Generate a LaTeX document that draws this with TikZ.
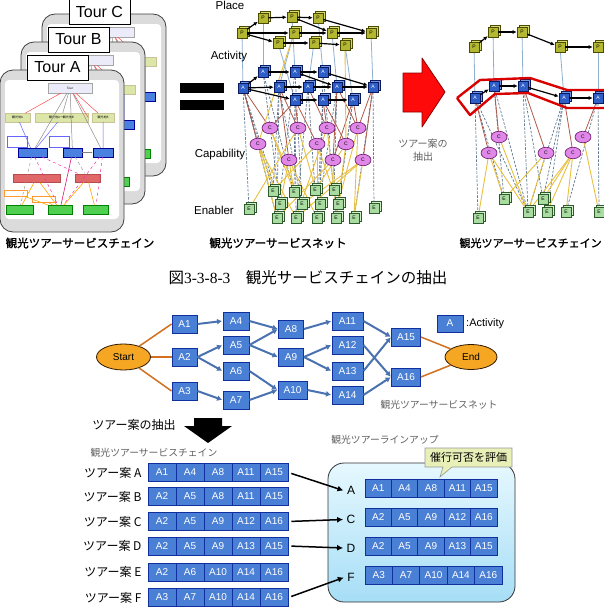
\documentclass[tikz,border=0pt]{standalone}
\usepackage{fontspec}
\setmainfont{Liberation Sans}
\newfontfamily\cjk{Noto Sans CJK JP}
\newfontfamily\cjkb[FakeBold=1.5]{Noto Sans CJK JP}
\newfontfamily\serifnum{Liberation Serif}
\usetikzlibrary{arrows.meta,shadows,shapes.geometric}
\pgfdeclarelayer{bg}
\pgfsetlayers{bg,main}
\definecolor{pfill}{HTML}{B4B830}
\definecolor{pdraw}{HTML}{4A4A00}
\definecolor{pshad}{HTML}{D8DC70}
\definecolor{afill}{HTML}{2E5EC8}
\definecolor{adraw}{HTML}{0A1A60}
\definecolor{ashad}{HTML}{7098E8}
\definecolor{cfill}{HTML}{E088E8}
\definecolor{cdraw}{HTML}{6A106A}
\definecolor{efill}{HTML}{A8DCA0}
\definecolor{edraw}{HTML}{2E5A2E}
\definecolor{eshad}{HTML}{D0F0C8}
\definecolor{pline}{HTML}{90B0D0}
\definecolor{acline}{HTML}{B05A48}
\definecolor{celine}{HTML}{E8C040}
\definecolor{aeline}{HTML}{607890}
\definecolor{cellfill}{HTML}{4A7FD6}
\definecolor{celldraw}{HTML}{1030A0}
\definecolor{arrblue}{HTML}{4A72B0}
\definecolor{orangeline}{HTML}{D07020}
\definecolor{startfill}{HTML}{F5A623}
\definecolor{txtgray}{HTML}{606060}
\definecolor{lutop}{HTML}{E6F8FF}
\definecolor{lubot}{HTML}{A6DEF6}
\definecolor{callfill}{HTML}{E8F0B8}
\definecolor{redarr}{HTML}{FF0A0A}
\definecolor{yboxc}{HTML}{DCE6A8}
\definecolor{bboxc}{HTML}{4A80E0}
\definecolor{rboxc}{HTML}{E06868}
\definecolor{gboxc}{HTML}{50D050}
\tikzset{
 cardframe/.style={draw=black!75, line width=0.8pt, fill=black!14, rounded corners=13},
 tourlabel/.style={draw=black, line width=0.8pt, fill=white, minimum width=61, minimum height=25, inner sep=0, font=\fontsize{16}{16}\selectfont},
 tinybox/.style={inner sep=0, minimum height=8.5, line width=0.4pt, font=\fontsize{3}{3}\selectfont\cjk},
 tourbox/.style={tinybox, fill=black!30!blue!8!white, draw=black!35, minimum width=44, minimum height=10},
 ybox/.style={tinybox, fill=yboxc, draw=yellow!50!black!50},
 wbox/.style={tinybox, fill=white, draw=blue!60, minimum width=20, minimum height=11},
 bbox/.style={tinybox, fill=bboxc, draw=blue!60!black},
 rbox/.style={tinybox, fill=rboxc, draw=red!60!black!70},
 obox/.style={tinybox, fill=white, draw=orange!80, minimum width=23, minimum height=6},
 gbox/.style={tinybox, fill=gboxc, draw=green!50!black},
 cube/.style={draw, line width=0.6pt, minimum size=10, inner sep=0, font=\fontsize{5}{5}\selectfont},
 pcube/.style={cube, fill=pfill, draw=pdraw, copy shadow={shadow xshift=2pt, shadow yshift=2pt, fill=pshad, draw=pdraw}},
 acube/.style={cube, fill=afill, draw=adraw, text=white, copy shadow={shadow xshift=2pt, shadow yshift=2pt, fill=ashad, draw=adraw}},
 ecube/.style={cube, fill=efill, draw=edraw, copy shadow={shadow xshift=2pt, shadow yshift=2pt, fill=eshad, draw=edraw}},
 cell/.style={ellipse, draw=cdraw, fill=cfill, line width=0.6pt, minimum width=16, minimum height=11.5, inner sep=0, font=\fontsize{5}{5}\selectfont},
 blackarr/.style={black, line width=1.2pt, -{Latex[length=4pt,width=4pt]}},
 pal/.style={pline, line width=0.8pt},
 acl/.style={acline, line width=0.8pt},
 cel/.style={celine, line width=0.9pt},
 ael/.style={aeline, line width=0.7pt, dash pattern=on 2.5pt off 1.5pt},
 anode/.style={draw=celldraw, fill=cellfill, line width=0.9pt, minimum width=26, minimum height=18, inner sep=0, text=white, font=\fontsize{10}{10}\selectfont, drop shadow={shadow xshift=0.8pt, shadow yshift=-0.8pt, opacity=0.35}},
 acellbox/.style={draw=celldraw, fill=cellfill, line width=0.9pt, minimum height=18, inner sep=0, text=white, font=\fontsize{10}{10}\selectfont},
 bluearr/.style={arrblue, line width=2pt, -{Latex[length=5pt,width=6pt]}, shorten >=0.5pt},
 orl/.style={orangeline, line width=1.5pt},
 oval/.style={ellipse, draw=black!80!orange, line width=0.8pt, fill=startfill, inner sep=0, font=\fontsize{10}{10}\selectfont},
 blkarr/.style={black, line width=1.5pt, -{Latex[length=6pt,width=6pt]}, shorten <=3pt},
 netlabel/.style={font=\fontsize{11.5}{11.5}\selectfont},
 capjp/.style={font=\fontsize{11.5}{11.5}\selectfont\cjkb},
 graycap/.style={text=txtgray, font=\fontsize{9.8}{9.8}\selectfont\cjk},
 rowlabel/.style={anchor=east, font=\fontsize{12}{12}\selectfont\cjk},
 lulabel/.style={font=\fontsize{12}{12}\selectfont}
}
% #1,#2 shift, #3 letter, #4 tour text, #5-#7 place texts
\newcommand\tourcard[7]{%
\begin{scope}[shift={(#1,#2)}]
\draw[cardframe] (0,70) rectangle (124,232);
\fill[white, rounded corners=4] (5,80) rectangle (119,219);
\node[tourbox] (#3t) at (70,88) {#4};
\node[ybox, minimum width=25] (#3y1) at (17.5,117.5) {#5};
\node[ybox, minimum width=53] (#3y2) at (61.5,117.5) {#6};
\node[ybox, minimum width=22] (#3y3) at (103,117.5) {#7};
\node[bbox, minimum width=29] (#3b1) at (32.5,152.5) {};
\node[bbox, minimum width=19] (#3b2) at (72.5,152.5) {};
\node[bbox, minimum width=20] (#3b3) at (103,152.5) {};
\node[wbox] (#3w1) at (17,142) {};
\node[wbox] (#3w2) at (59.5,142) {};
\node[rbox, minimum width=47] (#3r1) at (36.5,178) {};
\node[rbox, minimum width=25] (#3r2) at (87.5,178) {};
\node[obox] (#3o1) at (15.5,193) {};
\node[obox] (#3o2) at (43.5,199.5) {};
\node[gbox, minimum width=27] (#3g1) at (19.5,209.5) {};
\node[gbox, minimum width=24] (#3g2) at (60,209.5) {};
\node[gbox, minimum width=25] (#3g3) at (95.5,209.5) {};
\draw[red!60!pink, line width=0.5pt] (#3t) -- (#3y1) (#3t) -- (#3y3) (#3t) -- (#3y2.east);
\draw[black!45, line width=0.5pt] (#3t) -- (#3y2) (#3t) -- (#3b2) (#3t) -- (#3b3) (#3t) -- (#3b1);
\draw[blue!60, line width=0.5pt] (#3y1) -- (#3b1) (#3y3) -- (#3b3) (#3y2) -- (#3b1);
\draw[black!50, line width=0.5pt, -{Latex[length=2pt]}] (#3b2) -- (#3b3);
\draw[magenta!80, line width=0.5pt, dashed] (#3b1) -- (#3g2) (#3b3) -- (#3g2) (#3b1) -- (#3r2) (#3b3) -- (#3g3);
\draw[magenta!70!purple, line width=0.6pt] (#3b2) -- (#3g2);
\draw[black!40, line width=0.5pt, dashed] (#3b1) -- (#3g1) (#3b2) -- (#3r2);
\draw[orange!70!yellow, line width=0.6pt] (#3r1) -- (#3g1) (#3r1) -- (#3g2) (#3r2) -- (#3g2) (#3r2) -- (#3g3) (#3o1) -- (#3g2) (#3o2) -- (#3g2);
\node[tourlabel] (#3l) at (57.5,67.5) {Tour #3};
\end{scope}}
\begin{document}
\begin{tikzpicture}[x=1pt,y=-1pt]
\useasboundingbox (0,0) rectangle (603,613);
\begin{pgfonlayer}{bg}
\fill[white] (0,0) rectangle (603,613);
\end{pgfonlayer}
% ---------- tour cards
\tourcard{42}{-56}{C}{}{}{}{}
\tourcard{21}{-28}{B}{}{}{}{}
\tourcard{0}{0}{A}{Tour}{観光地A}{観光地A→観光地B}{観光地B}
\node[capjp] (capL) at (80,243) {観光ツアーサービスチェイン};
% ---------- equals sign
\fill[black] (180,83) rectangle (224,93);
\fill[black] (180,100) rectangle (224,110);
% ---------- service net (top middle)
\node[netlabel] (lplace) at (230,5) {Place};
\node[netlabel] (lact) at (229,57) {Activity};
\node[netlabel] (lcap) at (220,155) {Capability};
\node[netlabel] (lena) at (214,210) {Enabler};
\foreach \n/\x/\y in {p1/242/33, p2/263/18, p3/292/17, p4/294/33, p5/278/43, p6/318/18, p7/332/33, p8/314/43, p9/345/45, p10/371/33}
  \node[pcube] (\n) at (\x,\y) {P};
\foreach \n/\x/\y in {a1/243/88, a2/263/72, a3/279/87, a4/295/72, a5/308/87, a6/323/72, a7/337/87, a8/373/87, a9/295/100, a10/323/100, a11/353/100}
  \node[acube] (\n) at (\x,\y) {A};
\foreach \n/\x/\y in {c1/270/128, c2/298/128, c3/327/128, c4/358/128, c5/258/144, c6/317/144, c7/346/144, c8/289/160, c9/333/160, c10/363/160}
  \node[cell] (\n) at (\x,\y) {C};
\foreach \n/\x/\y in {e1/249/209, e2/273/191, e3/294/192, e4/315/190, e5/334/190, e6/280/204, e7/302/204, e8/320/204, e9/338/204, e10/374/208, e11/277/218, e12/296/218, e13/317/218, e14/336/218, e15/354/218}
  \node[ecube] (\n) at (\x,\y) {E};
\begin{pgfonlayer}{bg}
\foreach \a/\b in {p1/a1, p2/a2, p4/a3, p3/a4, p8/a5, p6/a6, p7/a7, p10/a8, p5/a9, p9/a11}
  \draw[pal] (\a) -- (\b);
\foreach \a/\b in {a1/e1, a1/e6, a1/e11, a3/e2, a3/e7, a5/e4, a5/e12, a7/e5, a7/e13, a8/e10, a9/e3, a10/e8, a11/e14, a11/e9, a2/e6, a4/e7, a6/e8, a8/e15, a9/e12, a10/e13, a1/e2, a3/e11, a2/e3, a6/e14, a4/e11}
  \draw[ael] (\a) -- (\b);
\foreach \a/\b in {a1/c1, a1/c5, a3/c2, a5/c1, a5/c3, a7/c4, a9/c2, a9/c6, a10/c3, a10/c7, a11/c4, a11/c9, a8/c10, a3/c8, a7/c9, a8/c4}
  \draw[acl] (\a) -- (\b);
\foreach \a/\b in {c1/e3, c1/e7, c5/e6, c5/e11, c5/e12, c2/e8, c2/e1, c3/e5, c3/e12, c6/e2, c6/e13, c7/e4, c7/e14, c4/e15, c4/e9, c8/e3, c8/e13, c8/e6, c9/e11, c9/e14, c10/e7, c10/e15, c10/e12, c6/e9, p4/c5, p9/c7}
  \draw[cel] (\a) -- (\b);
\end{pgfonlayer}
\foreach \a/\b in {p1/p2, p2/p3, p3/p6, p3/p7, p1/p4, p4/p7, p6/p10, p7/p10, p1/p5, p5/p8, p8/p9}
  \draw[blackarr] (\a) -- (\b);
\foreach \a/\b in {a1/a2, a2/a4, a4/a6, a1/a3, a3/a5, a5/a7, a7/a8, a6/a8, a1/a9, a9/a10, a10/a11, a4/a7}
  \draw[blackarr] (\a) -- (\b);
\node[capjp] (capM) at (278,243) {観光ツアーサービスネット};
% ---------- red arrow
\draw[fill=redarr, draw=red!55!black, line width=0.8pt, line join=round]
  (403,73) -- (422,73) -- (422,58) -- (445,92) -- (422,127) -- (422,112) -- (403,112) -- cycle;
\node[graycap, align=center, font=\fontsize{10}{12.5}\selectfont\cjk] (extr) at (423,150) {ツアー案の\\抽出};
% ---------- extracted chain (top right)
\foreach \n/\x/\y in {rp1/474/47, rp2/493/32, rp3/522/32, rp4/560/47, rp5/598/47}
  \node[pcube] (\n) at (\x,\y) {P};
\foreach \n/\x/\y in {ra1/475/98, ra2/494/86, ra3/523/86, ra4/564/98, ra5/598/98}
  \node[acube] (\n) at (\x,\y) {A};
\foreach \n/\x/\y in {rc1/499/137, rc2/489/153, rc3/546/153, rc4/573/153, rc5/583/137}
  \node[cell] (\n) at (\x,\y) {C};
\foreach \n/\x/\y in {re1/478/218, re2/504/199, re3/543/199, re4/528/212, re5/547/212, re6/566/212, re7/599/212}
  \node[ecube] (\n) at (\x,\y) {E};
\begin{pgfonlayer}{bg}
\foreach \a/\b in {rp1/ra1, rp2/ra2, rp3/ra3, rp4/ra4, rp5/ra5}
  \draw[pal] (\a) -- (\b);
\foreach \a/\b in {ra1/re1, ra1/re2, ra2/re2, ra3/re4, ra4/re4, ra4/re5, ra5/re6, ra2/re4, ra5/re7, ra3/re3, ra1/re4, ra4/re3}
  \draw[ael] (\a) -- (\b);
\foreach \a/\b in {ra2/rc1, ra1/rc2, ra3/rc3, ra4/rc4, ra5/rc5}
  \draw[acl] (\a) -- (\b);
\foreach \a/\b in {rc2/re1, rc2/re2, rc1/re4, rc3/re2, rc3/re4, rc4/re4, rc4/re5, rc4/re6, rc4/re3, rc5/re7, rc2/re4}
  \draw[cel] (\a) -- (\b);
\end{pgfonlayer}
\foreach \a/\b in {rp1/rp2, rp2/rp3, rp3/rp4, rp4/rp5, ra1/ra2, ra2/ra3, ra3/ra4, ra4/ra5}
  \draw[blackarr] (\a) -- (\b);
\draw[red!85!black, line width=2.4pt, line join=round]
  (457,98) -- (480,80) -- (530,78) -- (567,90) -- (610,90)
  (610,108) -- (567,108) -- (528,93) -- (495,94) -- (470,115) -- (457,98);
\node[capjp, anchor=west, font=\fontsize{11}{11}\selectfont\cjkb] (capR) at (456,243) {観光ツアーサービスチェイン};
% ---------- figure caption
\node (figcap) at (308,278) {\fontsize{15.5}{15.5}\selectfont{\cjk 図}{\serifnum 3-3-8-3}\hspace{1em}{\cjk 観光サービスチェインの抽出}};
% ---------- lower service net
\node[oval, minimum width=54, minimum height=26] (start) at (123.5,357) {Start};
\node[oval, minimum width=52, minimum height=25] (end) at (471,357) {End};
\foreach \n/\t/\x/\y/\w in {n1/A1/184.5/324/25, n2/A2/184.5/357/25, n3/A3/184.5/391/25, n4/A4/236/321/26, n5/A5/236/345/26, n6/A6/236/371/26, n7/A7/236/400/26, n8/A8/291/329/25, n9/A9/291/357/25, n10/A10/292.5/390/29, n11/A11/347.5/321/31, n12/A12/347.5/345/31, n13/A13/347.5/371/31, n14/A14/347.5/395/31, n15/A15/406/337/29, n16/A16/406/377/29}
  \node[anode, minimum width=\w] (\n) at (\x,\y) {\t};
\draw[orl] (start) -- (n1.west);
\draw[orl] (start) -- (n2.west);
\draw[orl] (start) -- (n3.west);
\draw[orl] (n15.east) -- (end);
\draw[orl] (n16.east) -- (end);
\foreach \a/\b in {n1/n4, n2/n5, n2/n6, n3/n7, n4/n8, n5/n8, n5/n9, n6/n10, n7/n10, n8/n11, n9/n12, n9/n13, n10/n14, n11/n15, n12/n16, n13/n15, n14/n16}
  \draw[bluearr] (\a.east) -- (\b.west);
\node[anode, minimum width=26, minimum height=17] (legA) at (450,323.5) {A};
\node[anchor=west, font=\fontsize{11}{11}\selectfont, inner sep=0] (legT) at (466,324) {:Activity};
\node[graycap] (capNet) at (439,405) {観光ツアーサービスネット};
% ---------- extraction arrow
\fill[black] (194,418) -- (222,418) -- (222,426) -- (232,426) -- (208,443) -- (184,426) -- (194,426) -- cycle;
\node[font=\fontsize{12}{12}\selectfont\cjk] (extr2) at (134,425) {ツアー案の抽出};
\node[graycap] (capChain) at (154,453) {観光ツアーサービスチェイン};
% ---------- tour plans
\foreach \r/\y/\lst in {A/472.5/{A1,A4,A8,A11,A15}, B/496.5/{A2,A5,A8,A11,A15}, C/521.5/{A2,A5,A9,A12,A16}, D/546/{A2,A5,A9,A13,A15}, E/572/{A2,A6,A10,A14,A16}, F/597.5/{A3,A7,A10,A14,A16}}{
  \node[rowlabel] (lab\r) at (145,\y) {ツアー案 \r};
  \foreach \t [count=\i] in \lst
    \node[acellbox, minimum width=28] (row\r\i) at ({148+(\i-0.5)*28},\y) {\t};
}
% ---------- lineup
\node[graycap] (capLU) at (385,440) {観光ツアーラインアップ};
\draw[draw=black!80, line width=0.8pt, rounded corners=16, top color=lutop, bottom color=lubot] (328,463) rectangle (515,602);
\draw[fill=callfill, draw=black!40, line width=0.6pt] (425,448) -- (512,448) -- (512,467) -- (452,467) -- (440,477) -- (443,467) -- (425,467) -- cycle;
\node[font=\fontsize{11}{11}\selectfont\cjk] (callT) at (468.5,457.5) {催行可否を評価};
\foreach \r/\y/\w/\lst in {A/488.5/26.4/{A1,A4,A8,A11,A15}, C/517.5/26.4/{A2,A5,A9,A12,A16}, D/546/26.4/{A2,A5,A9,A13,A15}, F/575.5/27.4/{A3,A7,A10,A14,A16}}{
  \node[lulabel] (lu\r) at (351,\y+2) {\r};
  \foreach \t [count=\i] in \lst
    \node[acellbox, minimum width=\w] (lur\r\i) at ({365+(\i-0.5)*\w},\y) {\t};
}
\draw[blkarr] (rowA5.east) -- (luA.west);
\draw[blkarr] (rowC5.east) -- (luC.west);
\draw[blkarr] (rowD5.east) -- (luD.west);
\draw[blkarr] (rowF5.east) -- (luF.west);
\end{tikzpicture}
\end{document}
